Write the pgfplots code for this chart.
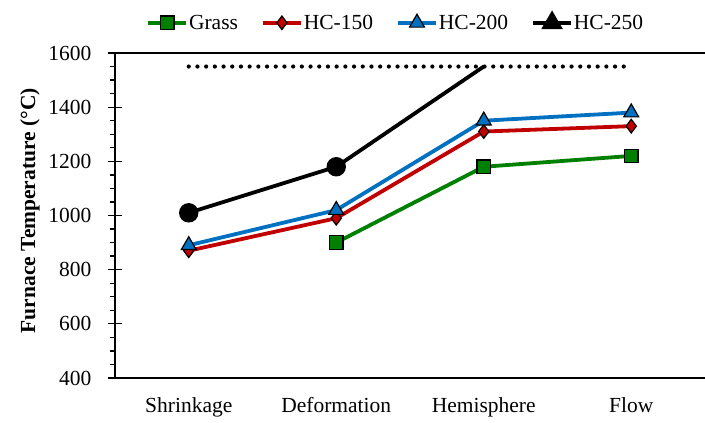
\documentclass[border=0pt]{standalone}
\usepackage{fontspec}
\setmainfont{Liberation Serif}
\usepackage{pgfplots}
\pgfplotsset{compat=1.18}

\definecolor{grassgreen}{RGB}{0,128,0}
\definecolor{hcred}{RGB}{192,0,0}
\definecolor{hcblue}{RGB}{0,112,192}

\pgfplotsset{
  longlegend/.style={
    legend image code/.code={%
      \draw[mark repeat=2,mark phase=2,##1] plot coordinates {(0bp,0bp) (19bp,0bp) (38bp,0bp)};%
    }
  }
}

\begin{document}
\begin{tikzpicture}[font=\fontsize{21.5bp}{25bp}\selectfont]
\begin{axis}[
  name=ax,
  width=590bp, height=325bp, scale only axis,
  xmin=-0.5, xmax=3.5, ymin=400, ymax=1600,
  axis x line*=bottom, axis y line*=left,
  axis line style={line width=1.6bp, black},
  xtick={0,1,2,3},
  xticklabels={Shrinkage,Deformation,Hemisphere,Flow},
  major x tick style={draw=none},
  ytick={400,600,...,1600},
  minor y tick num=3,
  tick align=outside,
  major tick length=7bp, minor tick length=5bp,
  tick style={line width=1.3bp, black},
  /pgf/number format/assume math mode=true,
  /pgf/number format/1000 sep={},
  yticklabel style={xshift=-13bp},
  xticklabel style={yshift=-9bp},
  ylabel={\bfseries Furnace Temperature (°C)},
  ylabel style={at={(rel axis cs:0,0.515)}, anchor=center, yshift=85bp},
  legend columns=4,
  legend style={draw=none, at={(0.475,1)}, anchor=center, yshift=31bp,
    nodes={inner sep=1bp},
    /tikz/every even column/.append style={column sep=22bp}},
  every axis plot/.append style={line width=3.8bp},
]
% reference level
\addplot[forget plot, black, line width=4.2bp, line cap=round, dash pattern=on 0pt off 8.7bp]
  coordinates {(0,1550) (1,1550) (2,1550) (3,1550)};

\addplot[grassgreen, longlegend, mark=square*,
  mark options={fill=grassgreen, draw=black, line width=1.2bp, mark size=6.8bp}]
  coordinates {(1,900) (2,1180) (3,1220)};
\addlegendentry{Grass}

\addplot[hcred, longlegend, mark=diamond*,
  mark options={fill=hcred, draw=black, line width=1.2bp, mark size=6.8bp}]
  coordinates {(0,870) (1,990) (2,1310) (3,1330)};
\addlegendentry{HC-150}

\addplot[hcblue, longlegend, mark=triangle*,
  mark options={fill=hcblue, draw=black, line width=1.2bp, mark size=8.6bp}]
  coordinates {(0,890) (1,1020) (2,1350) (3,1380)};
\addlegendentry{HC-200}

\addplot[black, mark=*, mark indices={1,2},
  mark options={fill=black, draw=black, mark size=7.8bp},
  legend image code/.code={%
    \draw[black, line width=3.8bp] (0bp,0bp) -- (38bp,0bp);
    \fill[black] (19bp,0bp) +(90:8.6bp) -- +(210:8.6bp) -- +(330:8.6bp) -- cycle;}]
  coordinates {(0,1010) (1,1180) (2,1550)};
\addlegendentry{HC-250}

% frame top and inner halves of the major y ticks
\draw[line width=1.6bp, black] (rel axis cs:0,1) -- (rel axis cs:1,1);
\pgfplotsinvokeforeach{600,800,1000,1200,1400}{
  \draw[line width=1.3bp, black] (axis cs:-0.5,#1) -- ++(7bp,0bp);
}
% category boundary ticks
\pgfplotsinvokeforeach{-0.5,0.5,1.5,2.5}{
  \draw[line width=1.3bp, black] (axis cs:#1,400) -- ++(0bp,-7bp);
}
\end{axis}
\pgfresetboundingbox
\path ([xshift=-115bp,yshift=-45bp]ax.south west) rectangle ([yshift=53bp]ax.north east);
\end{tikzpicture}
\end{document}
